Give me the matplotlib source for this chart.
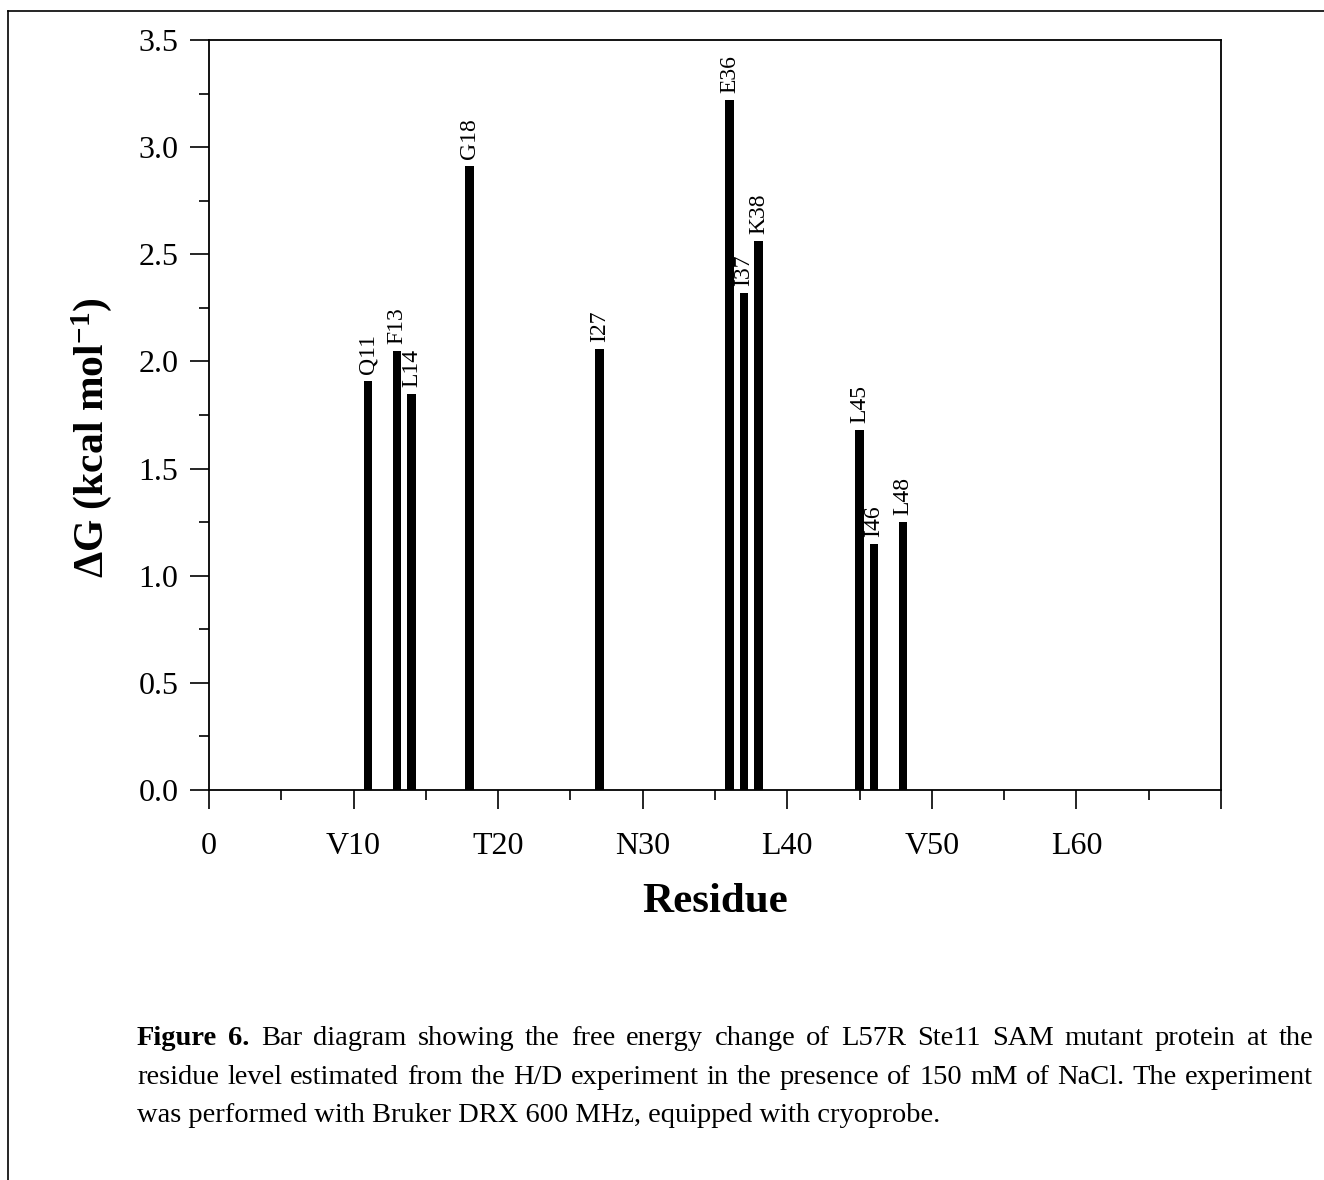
import matplotlib.pyplot as plt
from matplotlib.lines import Line2D
from matplotlib.ticker import MultipleLocator

plt.rcParams['font.family'] = ['Liberation Serif', 'DejaVu Serif']
plt.rcParams['mathtext.fontset'] = 'custom'
plt.rcParams['mathtext.rm'] = 'Liberation Serif'
plt.rcParams['mathtext.bf'] = 'Liberation Serif:bold'
plt.rcParams['mathtext.default'] = 'bf'

# residue number, label and free energy change (kcal/mol)
residues = [11, 13, 14, 18, 27, 36, 37, 38, 45, 46, 48]
names = ['Q11', 'F13', 'L14', 'G18', 'I27', 'E36', 'I37', 'K38', 'L45', 'I46', 'L48']
dG = [1.91, 2.05, 1.85, 2.91, 2.06, 3.22, 2.32, 2.56, 1.68, 1.15, 1.25]

xtick_pos = [0, 10, 20, 30, 40, 50, 60, 70]
xtick_lab = ['0', 'V10', 'T20', 'N30', 'L40', 'V50', 'L60', '']

caption = [
    [('Figure', 'bold'), ('6.', 'bold'), ('Bar', 'normal'), ('diagram', 'normal'), ('showing', 'normal'),
     ('the', 'normal'), ('free', 'normal'), ('energy', 'normal'), ('change', 'normal'), ('of', 'normal'),
     ('L57R', 'normal'), ('Ste11', 'normal'), ('SAM', 'normal'), ('mutant', 'normal'), ('protein', 'normal'),
     ('at', 'normal'), ('the', 'normal')],
    [(w, 'normal') for w in 'residue level estimated from the H/D experiment in the presence '
                            'of 150 mM of NaCl. The experiment'.split()],
]
last_line = 'was performed with Bruker DRX 600 MHz, equipped with cryoprobe.'

W, H = 1324, 1180
fig = plt.figure(figsize=(W / 100, H / 100), dpi=100)
ax = fig.add_axes([209/W, 1 - 790/H, (1221-209)/W, (790-40)/H])

ax.bar(residues, dG, width=0.6, color='black')
for x, y, n in zip(residues, dG, names):
    ax.annotate(n, (x, y), xytext=(0, 5), textcoords='offset points',
                rotation=90, ha='center', va='bottom', fontsize=17)

ax.set_xlim(0, 70)
ax.set_ylim(0, 3.5)
ax.set_xticks(xtick_pos)
ax.set_xticklabels(xtick_lab)
ax.xaxis.set_minor_locator(MultipleLocator(5))
ax.yaxis.set_major_locator(MultipleLocator(0.5))
ax.yaxis.set_minor_locator(MultipleLocator(0.25))
ax.yaxis.set_major_formatter(plt.FormatStrFormatter('%.1f'))
ax.tick_params(which='both', direction='out', width=1.2, labelsize=23)
ax.tick_params(which='major', length=14)
ax.tick_params(which='minor', length=7)
ax.tick_params(axis='y', pad=8)
ax.tick_params(axis='x', pad=16)
for s in ax.spines.values():
    s.set_linewidth(1.3)

ax.set_xlabel('Residue', fontsize=31, fontweight='bold', labelpad=16)
ax.set_ylabel('ΔG (kcal mol$^{-1}$)', fontsize=30, fontweight='bold')
ax.yaxis.set_label_coords(-0.094, 0.47)

# caption below the chart, justified like the page text
x0, x1 = 137 / W, 1313 / W
baselines = [1045, 1084, 1122]
renderer = fig.canvas.get_renderer()
for words, yb in zip(caption, baselines):
    texts = [fig.text(0, 1 - yb / H, w, fontsize=20.5, fontweight=wt, va='baseline') for w, wt in words]
    widths = [t.get_window_extent(renderer).width / W for t in texts]
    gap = (x1 - x0 - sum(widths)) / (len(texts) - 1)
    x = x0
    for t, wd in zip(texts, widths):
        t.set_x(x)
        x += wd + gap
fig.text(x0, 1 - baselines[2] / H, last_line, fontsize=20.5, va='baseline')

# page frame (top and left edges)
fig.add_artist(Line2D([8/W, 1], [1 - 11/H, 1 - 11/H], color='black', lw=1.2))
fig.add_artist(Line2D([8/W, 8/W], [0, 1 - 11/H], color='black', lw=1.2))

fig.savefig('out.png', dpi=100)
